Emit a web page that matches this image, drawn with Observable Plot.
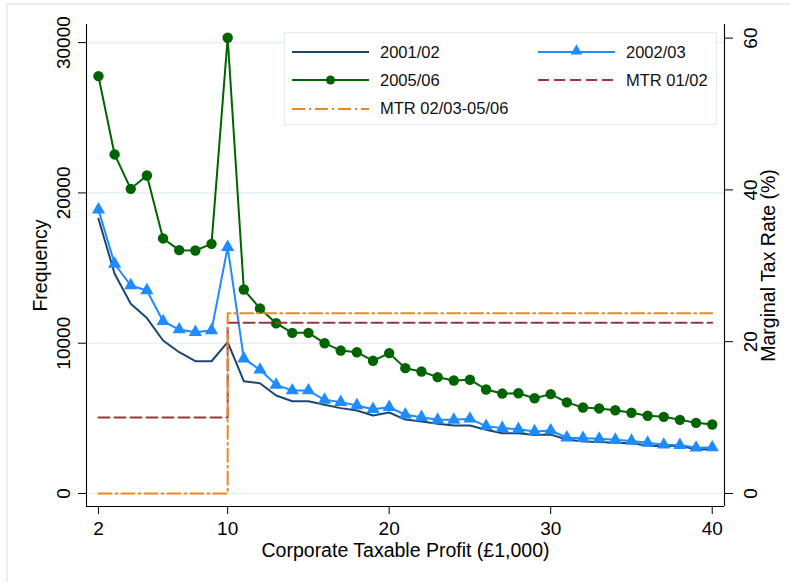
<!DOCTYPE html>
<html>
<head>
<meta charset="utf-8">
<script src="https://cdn.jsdelivr.net/npm/d3@7"></script>
<script src="https://cdn.jsdelivr.net/npm/@observablehq/plot@0.6"></script>
<style>
  html, body { margin: 0; padding: 0; background: #fff; }
  body { font-family: "Liberation Sans", Arial, Helvetica, sans-serif; }
  #wrap { position: relative; width: 790px; height: 582px; overflow: hidden; background: #fff; }
  #outer { position: absolute; left: 6px; top: 3px; width: 820px; height: 620px; border: 2px solid #e8eef2; box-sizing: border-box; }
  #chart { position: absolute; left: 0; top: 0; }
  #legend { position: absolute; left: 284px; top: 32px; width: 433px; height: 93px; box-sizing: border-box;
            border: 1.5px solid #e4ebef; background: #fff; }
  .item { position: absolute; height: 20px; display: flex; align-items: center; font-size: 16.5px; color: #111; }
  .item svg { margin-right: 11px; }
</style>
</head>
<body>
<div id="wrap">
  <div id="outer"></div>
  <div id="chart"></div>
  <div id="legend"></div>
</div>
<script>
// Taxable profit bands (£1,000)
const profit = [2, 3, 4, 5, 6, 7, 8, 9, 10, 11, 12, 13, 14, 15, 16, 17, 18, 19, 20,
                21, 22, 23, 24, 25, 26, 27, 28, 29, 30, 31, 32, 33, 34, 35, 36, 37, 38, 39, 40];

// Number of companies per band, by tax year
const freq0102 = [18280, 14620, 12620, 11670, 10180, 9400, 8800, 8800, 10070, 7470,
                  7340, 6520, 6140, 6140, 5900, 5680, 5520, 5190, 5390, 4920,
                  4790, 4640, 4520, 4520, 4240, 4010, 4010, 3900, 3920, 3590,
                  3460, 3420, 3370, 3350, 3190, 3130, 3190, 2930, 2950];
const freq0203 = [18880, 15280, 13840, 13510, 11460, 10910, 10730, 10850, 16390, 8970,
                  8230, 7230, 6850, 6850, 6230, 6080, 5860, 5610, 5740, 5240,
                  5080, 4900, 4900, 4970, 4480, 4350, 4280, 4130, 4190, 3710,
                  3680, 3640, 3570, 3500, 3370, 3240, 3220, 3040, 3060];
const freq0506 = [27770, 22560, 20270, 21160, 16970, 16190, 16170, 16610, 30320, 13570,
                  12310, 11330, 10690, 10690, 10000, 9510, 9400, 8830, 9340, 8340,
                  8120, 7740, 7520, 7570, 6920, 6650, 6670, 6340, 6610, 6060,
                  5720, 5660, 5540, 5370, 5170, 5100, 4900, 4700, 4590];

// Marginal tax rate schedules (%), stepping at £10,000
const mtrProfit = [2, 10, 10, 40];
const mtr0102 = [10, 10, 22.5, 22.5];
const mtr0206 = [0, 0, 23.75, 23.75];

// Axis ticks
const xTicks = [2, 10, 20, 30, 40];
const freqTicks = [0, 10000, 20000, 30000];
const rateTicks = [0, 20, 40, 60];

// Right axis (%) shares the frequency scale: 1 percentage point = RATE_K companies
const RATE_K = 505;

const xDomain = [1.26, 40.76];
const yDomain = [-865, 31205];

const series = (ys) => profit.map((p, i) => ({x: p, y: ys[i]}));
const mtrSeries = (rs) => mtrProfit.map((p, i) => ({x: p, y: rs[i] * RATE_K}));

const C = {
  navy: "#1a476f",
  blue: "#1e8cff",
  green: "#006400",
  red: "#953a3e",
  orange: "#ea8a1d"
};

const font = "Liberation Sans, Arial, Helvetica, sans-serif";

const chart = Plot.plot({
  width: 790,
  height: 582,
  marginLeft: 86,
  marginRight: 66,
  marginTop: 24,
  marginBottom: 76,
  x: {domain: xDomain},
  y: {domain: yDomain},
  style: {fontFamily: font, background: "transparent", color: "#000"},
  marks: [
    // grid
    Plot.ruleY(freqTicks, {stroke: "#e8f0f3", strokeWidth: 1.6}),
    // axis lines
    Plot.ruleX([xDomain[0]], {stroke: "#000", strokeWidth: 1.1}),
    Plot.ruleX([xDomain[1]], {stroke: "#000", strokeWidth: 1.1}),
    Plot.ruleY([yDomain[0]], {stroke: "#000", strokeWidth: 1.1}),
    // ticks
    Plot.axisX({ticks: xTicks, tickSize: 8, tickFormat: () => "", label: null}),
    Plot.axisY({ticks: freqTicks, tickSize: 8, tickFormat: () => "", label: null}),
    Plot.axisY({anchor: "right", ticks: rateTicks.map(r => r * RATE_K), tickSize: 8, tickFormat: () => "", label: null}),
    // tick labels
    Plot.text(xTicks, {x: d => d, frameAnchor: "bottom", dy: 22, text: d => String(d), fontSize: 19, lineAnchor: "middle", textAnchor: "middle"}),
    Plot.text(freqTicks, {y: d => d, frameAnchor: "left", dx: -23, rotate: -90, text: d => String(d), fontSize: 19, textAnchor: "middle", lineAnchor: "middle"}),
    Plot.text(rateTicks, {y: d => d * RATE_K, frameAnchor: "right", dx: 26, rotate: -90, text: d => String(d), fontSize: 19, textAnchor: "middle", lineAnchor: "middle"}),
    // axis titles
    Plot.text(["Frequency"], {frameAnchor: "left", dx: -46, rotate: -90, text: d => d, fontSize: 19.5, textAnchor: "middle", lineAnchor: "middle"}),
    Plot.text(["Marginal Tax Rate (%)"], {frameAnchor: "right", dx: 44, rotate: -90, text: d => d, fontSize: 19.5, textAnchor: "middle", lineAnchor: "middle"}),
    Plot.text(["Corporate Taxable Profit (£1,000)"], {frameAnchor: "bottom", dy: 44, text: d => d, fontSize: 19.5, lineAnchor: "middle", textAnchor: "middle"}),
    // series
    Plot.line(series(freq0102), {x: "x", y: "y", stroke: C.navy, strokeWidth: 2}),
    Plot.line(series(freq0203), {x: "x", y: "y", stroke: C.blue, strokeWidth: 2}),
    Plot.dot(series(freq0203), {x: "x", y: "y", symbol: "triangle", r: 4.9, fill: C.blue, stroke: null}),
    Plot.line(series(freq0506), {x: "x", y: "y", stroke: C.green, strokeWidth: 2}),
    Plot.dot(series(freq0506), {x: "x", y: "y", r: 5.2, fill: C.green, stroke: null}),
    // tax schedules
    Plot.line(mtrSeries(mtr0102), {x: "x", y: "y", stroke: C.red, strokeWidth: 2, strokeDasharray: "11,5"}),
    Plot.line(mtrSeries(mtr0206), {x: "x", y: "y", stroke: C.orange, strokeWidth: 2, strokeDasharray: "13,4,2,4"})
  ]
});
document.getElementById("chart").appendChild(chart);

// Legend
const legendItems = [
  {label: "2001/02", color: C.navy, col: 0, row: 0},
  {label: "2002/03", color: C.blue, col: 1, row: 0, symbol: "triangle"},
  {label: "2005/06", color: C.green, col: 0, row: 1, symbol: "circle"},
  {label: "MTR 01/02", color: C.red, col: 1, row: 1, dash: "11,5"},
  {label: "MTR 02/03-05/06", color: C.orange, col: 0, row: 2, dash: "13,4,2,4"}
];
const legend = document.getElementById("legend");
const ns = "http://www.w3.org/2000/svg";
for (const it of legendItems) {
  const div = document.createElement("div");
  div.className = "item";
  div.style.left = (it.col ? 253 : 7) + "px";
  div.style.top = (9 + it.row * 28.3) + "px";
  const svg = document.createElementNS(ns, "svg");
  svg.setAttribute("width", 77);
  svg.setAttribute("height", 20);
  const line = document.createElementNS(ns, "line");
  line.setAttribute("x1", 0); line.setAttribute("x2", 77);
  line.setAttribute("y1", 10); line.setAttribute("y2", 10);
  line.setAttribute("stroke", it.color);
  line.setAttribute("stroke-width", 2);
  if (it.dash) line.setAttribute("stroke-dasharray", it.dash);
  svg.appendChild(line);
  if (it.symbol === "circle") {
    const c = document.createElementNS(ns, "circle");
    c.setAttribute("cx", 38.5); c.setAttribute("cy", 10); c.setAttribute("r", 4.5);
    c.setAttribute("fill", it.color);
    svg.appendChild(c);
  } else if (it.symbol === "triangle") {
    const p = document.createElementNS(ns, "path");
    p.setAttribute("d", d3.symbol(d3.symbolTriangle, 60)());
    p.setAttribute("transform", "translate(38.5,9)");
    p.setAttribute("fill", it.color);
    svg.appendChild(p);
  }
  div.appendChild(svg);
  const span = document.createElement("span");
  span.textContent = it.label;
  div.appendChild(span);
  legend.appendChild(div);
}
</script>
</body>
</html>
